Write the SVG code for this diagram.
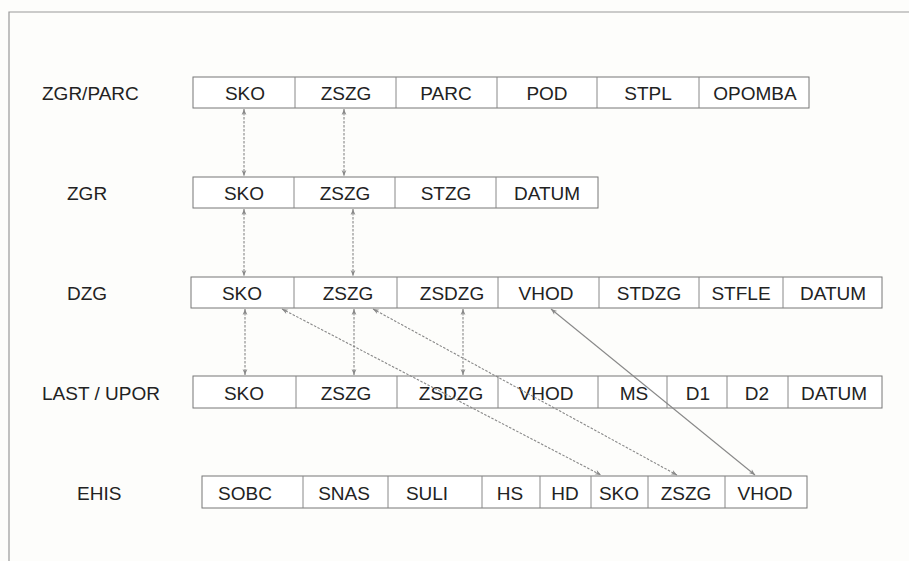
<svg xmlns="http://www.w3.org/2000/svg" width="909" height="561" viewBox="0 0 909 561">
<style>
.bg{fill:#fdfdfb}
.frame{stroke:#999;stroke-width:1.2;fill:none}
.box{fill:#fff;stroke:#777;stroke-width:1}
.div{stroke:#888;stroke-width:1}
text{font-family:"Liberation Sans",Arial,sans-serif;font-size:19px;fill:#222}
.c{text-anchor:middle}
.dash{stroke:#888;stroke-width:1.1;fill:none;stroke-dasharray:2.5,1.5;marker-start:url(#ah);marker-end:url(#ah)}
.solid{stroke:#888;stroke-width:1.1;fill:none;marker-start:url(#ah);marker-end:url(#ah)}
</style>
<defs>
<marker id="ah" viewBox="0 0 10 10" refX="10" refY="5" markerWidth="8" markerHeight="6" markerUnits="userSpaceOnUse" orient="auto-start-reverse">
<path d="M0,1 L10,5 L0,9 L3,5 Z" fill="#888"/>
</marker>
</defs>
<rect class="bg" x="0" y="0" width="909" height="561"/>
<path class="frame" d="M9,561 V12 H909"/>

<g id="row-zgr-parc">
<text x="42" y="100">ZGR/PARC</text>
<rect class="box" x="193" y="77" width="616" height="31"/>
<path class="div" d="M295,77V108 M396,77V108 M497,77V108 M597,77V108 M699,77V108"/>
<text class="c" x="245" y="100">SKO</text>
<text class="c" x="346" y="100">ZSZG</text>
<text class="c" x="446" y="100">PARC</text>
<text class="c" x="547" y="100">POD</text>
<text class="c" x="648" y="100">STPL</text>
<text class="c" x="755" y="100">OPOMBA</text>
</g>

<g id="row-zgr">
<text x="67" y="200">ZGR</text>
<rect class="box" x="193" y="177" width="405" height="31"/>
<path class="div" d="M294,177V208 M395,177V208 M496,177V208"/>
<text class="c" x="244" y="200">SKO</text>
<text class="c" x="345" y="200">ZSZG</text>
<text class="c" x="446" y="200">STZG</text>
<text class="c" x="547" y="200">DATUM</text>
</g>

<g id="row-dzg">
<text x="67" y="300">DZG</text>
<rect class="box" x="191" y="277" width="691" height="31"/>
<path class="div" d="M294,277V308 M397,277V308 M498,277V308 M599,277V308 M699,277V308 M783,277V308"/>
<text class="c" x="242" y="300">SKO</text>
<text class="c" x="348" y="300">ZSZG</text>
<text class="c" x="452" y="300">ZSDZG</text>
<text class="c" x="546" y="300">VHOD</text>
<text class="c" x="649" y="300">STDZG</text>
<text class="c" x="741" y="300">STFLE</text>
<text class="c" x="833" y="300">DATUM</text>
</g>

<g id="row-last-upor">
<text x="42" y="400">LAST / UPOR</text>
<rect class="box" x="193" y="376" width="689" height="32"/>
<path class="div" d="M296,376V408 M397,376V408 M498,376V408 M598,376V408 M667,376V408 M727,376V408 M788,376V408"/>
<text class="c" x="244" y="400">SKO</text>
<text class="c" x="346" y="400">ZSZG</text>
<text class="c" x="451" y="400">ZSDZG</text>
<text class="c" x="546" y="400">VHOD</text>
<text class="c" x="634" y="400">MS</text>
<text class="c" x="698" y="400">D1</text>
<text class="c" x="757" y="400">D2</text>
<text class="c" x="834" y="400">DATUM</text>
</g>

<g id="row-ehis">
<text x="77" y="500">EHIS</text>
<rect class="box" x="202" y="476" width="605" height="32"/>
<path class="div" d="M303,476V508 M388,476V508 M482,476V508 M540,476V508 M591,476V508 M648,476V508 M725,476V508"/>
<text class="c" x="245" y="500">SOBC</text>
<text class="c" x="344" y="500">SNAS</text>
<text class="c" x="427" y="500">SULI</text>
<text class="c" x="510" y="500">HS</text>
<text class="c" x="565" y="500">HD</text>
<text class="c" x="619" y="500">SKO</text>
<text class="c" x="686" y="500">ZSZG</text>
<text class="c" x="765" y="500">VHOD</text>
</g>

<g id="connectors">
<line class="dash" x1="244" y1="109" x2="244" y2="176"/>
<line class="dash" x1="344" y1="109" x2="344" y2="176"/>
<line class="dash" x1="244" y1="209" x2="244" y2="276"/>
<line class="dash" x1="353" y1="209" x2="353" y2="276"/>
<line class="dash" x1="245" y1="309" x2="245" y2="375"/>
<line class="dash" x1="354" y1="309" x2="354" y2="375"/>
<line class="dash" x1="463" y1="309" x2="463" y2="375"/>
<line class="dash" x1="282" y1="309" x2="601" y2="475"/>
<line class="dash" x1="373" y1="309" x2="677" y2="475"/>
<line class="solid" x1="551" y1="309" x2="755" y2="475"/>
</g>
</svg>
